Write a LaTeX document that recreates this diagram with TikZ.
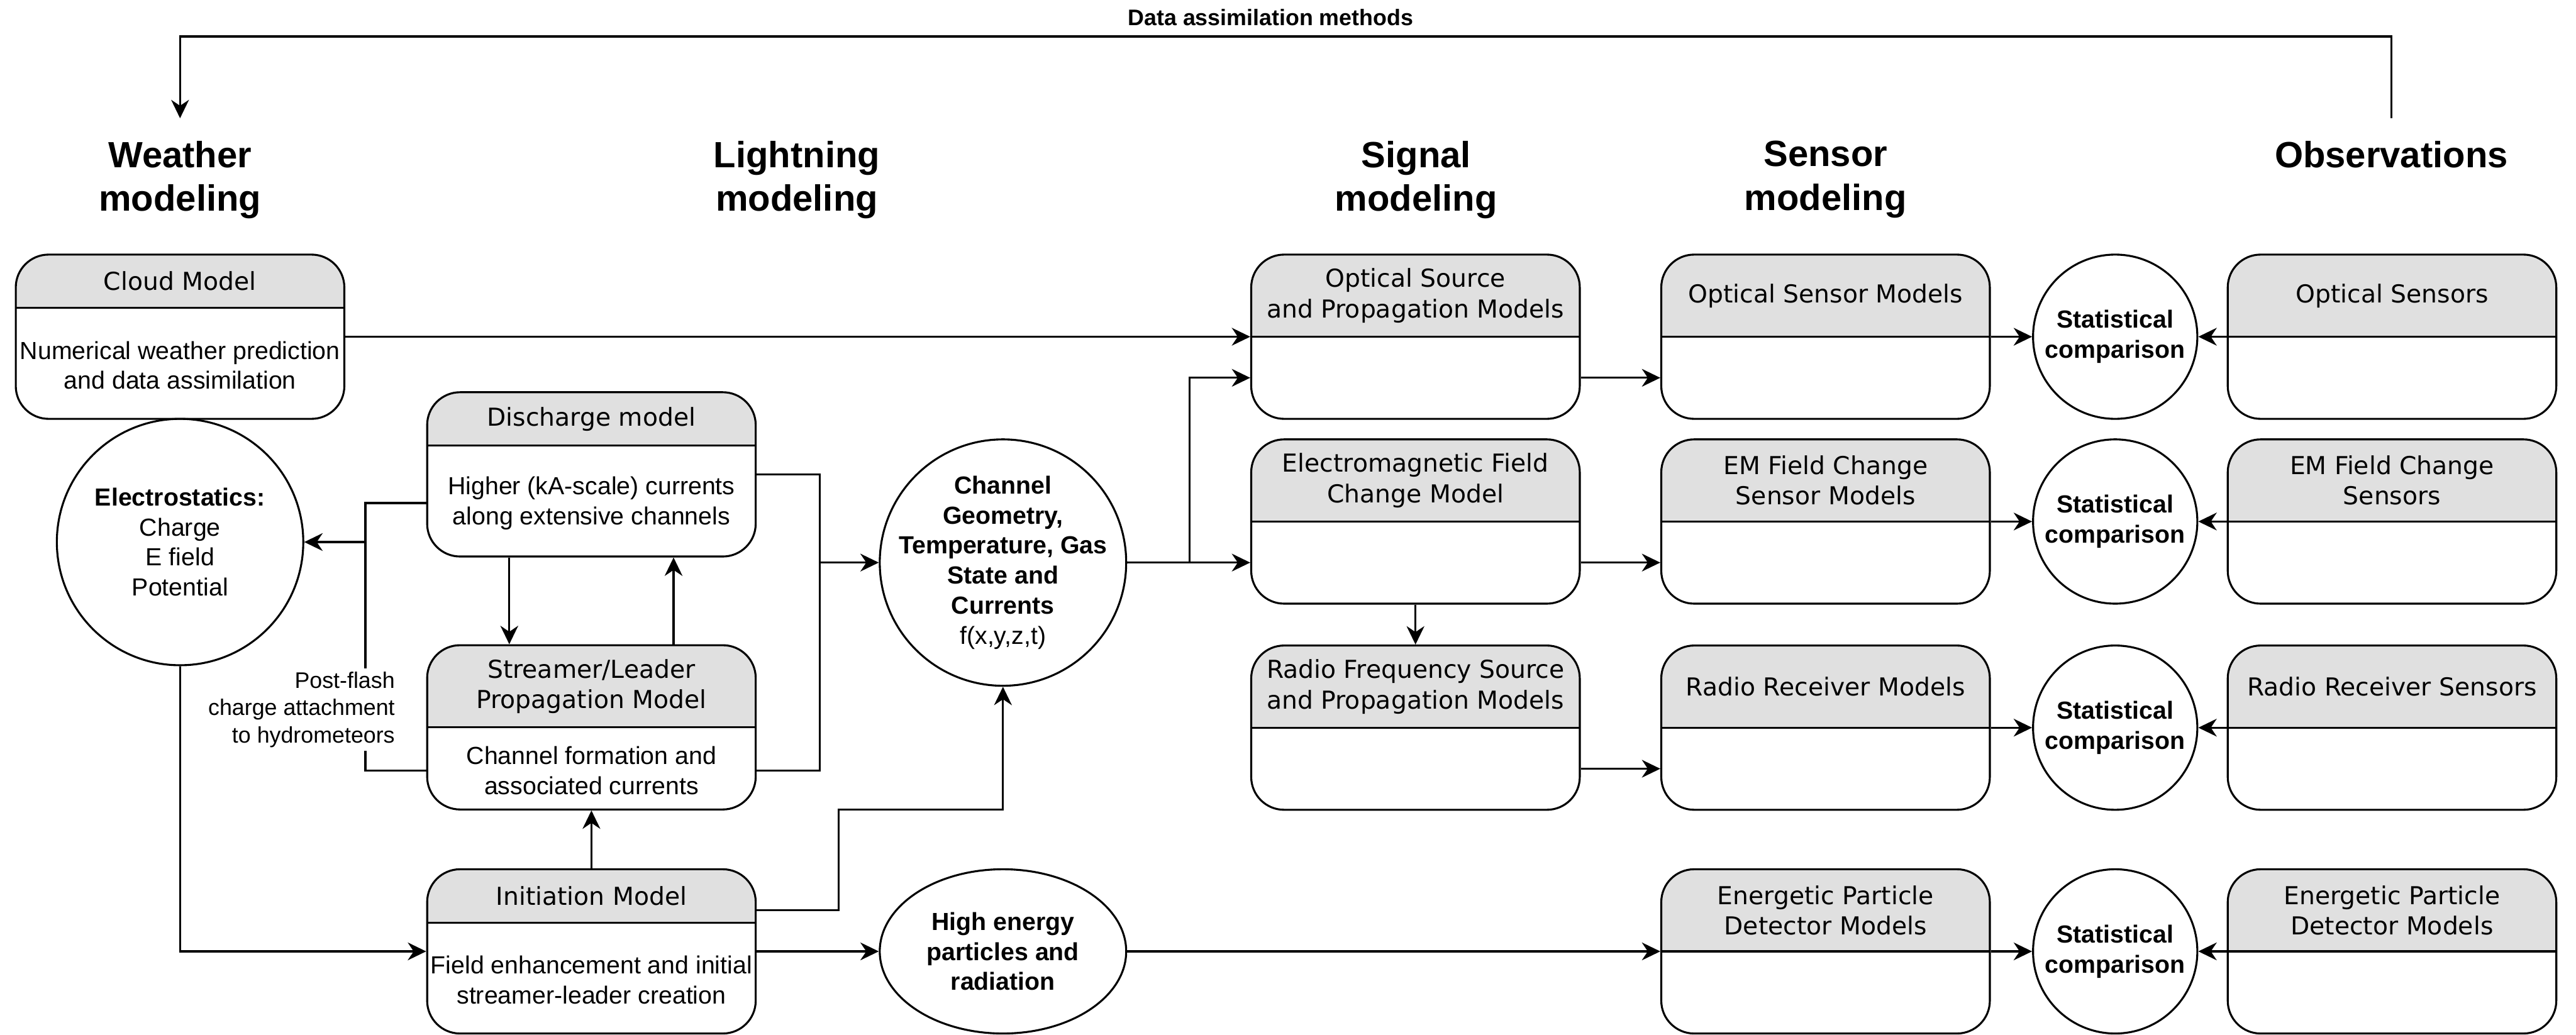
\documentclass[tikz,border=0pt]{standalone}
\usepackage{fontspec}
\setmainfont{Liberation Sans}
\newfontfamily\dejavu{DejaVu Sans}
\usetikzlibrary{arrows.meta, positioning, shapes.geometric}
\definecolor{headgray}{RGB}{224,224,224}

\begin{document}
\begin{tikzpicture}[line width=0.85pt, font=\fontsize{10.7}{13}\selectfont,
    arr/.style={-{Stealth[length=2.8mm, width=2.7mm, inset=0.9mm]}},
    lane/.style={draw, rounded corners=5mm, minimum width=5cm, minimum height=2.5cm, inner sep=0pt,
        path picture={
            \fill[headgray, sharp corners] (path picture bounding box.north west) rectangle ([yshift=-#1]path picture bounding box.north east);
            \draw[sharp corners] ([yshift=-#1]path picture bounding box.north west) -- ([yshift=-#1]path picture bounding box.north east);
        }},
    cell/.style={minimum width=5cm, minimum height=#1, inner sep=0pt, align=center},
    ttl/.style={cell=#1, font=\dejavu\fontsize{10.7}{13.2}\selectfont},
    hdr/.style={font=\bfseries\fontsize{15.8}{18.9}\selectfont, align=center, anchor=north, inner ysep=3.3mm},
    bub/.style={draw, circle, minimum size=3.75cm, inner sep=0pt, align=center},
    stat/.style={draw, circle, minimum size=2.5cm, inner sep=0pt, align=center, font=\bfseries\fontsize{10.7}{13}\selectfont},
    small/.style={font=\fontsize{9.75}{11.8}\selectfont}
]
\useasboundingbox (0,0) rectangle (39.2,15.75);

% Column headings
\node[hdr] (wea) at (2.74,13.95) {Weather\\modeling};
\node[hdr] (lig) at (12.125,13.95) {Lightning\\modeling};
\node[hdr] (sig) at (21.55,13.95) {Signal\\modeling};
\node[hdr] (sen) at (27.78,13.95) {Sensor\\modeling};
\node[hdr] (obs) at (36.39,13.95) {Observations};

% Data assimilation loop
\coordinate (top) at (19.335,15.195);
\node[font=\bfseries\fontsize{9.75}{11.8}\selectfont, above=1pt of top] (dam) {Data assimilation methods};
\draw[arr] (obs.north) |- (top) -| (wea.north);

% Weather modeling
\node[lane=0.8125cm] (cloud) at (2.74,10.625) {};
\node[ttl=0.8125cm, below=0pt of cloud.north] (cloudT) {Cloud Model};
\node[cell=1.6875cm, below=0pt of cloudT] (cloudB) {Numerical weather prediction\\and data assimilation};
\node[bub] (elec) at (2.74,7.5) {\textbf{Electrostatics:}\\Charge\\E field\\Potential};

% Lightning modeling
\node[lane=0.8125cm] (dis) at (9,8.53) {};
\node[ttl=0.8125cm, below=0pt of dis.north] (disT) {Discharge model};
\node[cell=1.6875cm, below=0pt of disT] (disB) {Higher (kA-scale) currents\\along extensive channels};

\node[lane=1.25cm] (str) at (9,4.68) {};
\node[ttl=1.25cm, below=0pt of str.north] (strT) {Streamer/Leader\\Propagation Model};
\node[cell=1.25cm, below=0pt of strT] (strB) {Channel formation and\\associated currents};

\node[lane=0.8125cm] (ini) at (9,1.27) {};
\node[ttl=0.8125cm, below=0pt of ini.north] (iniT) {Initiation Model};
\node[cell=1.6875cm, below=0pt of iniT] (iniB) {Field enhancement and initial\\streamer-leader creation};

\node[bub] (chan) at (15.2625,7.1875) {};
\node[align=center, font=\bfseries\fontsize{10.7}{13}\selectfont] (chanT) at (chan) {Channel\\Geometry,\\Temperature, Gas\\State and\\Currents\\{\mdseries f(x,y,z,t)}};
\node[draw, ellipse, minimum width=3.75cm, minimum height=2.5cm, inner sep=0pt, align=center, font=\bfseries\fontsize{10.7}{13}\selectfont] (hep) at (15.2625,1.27) {High energy\\particles and\\radiation};

% Signal modeling
\node[lane=1.25cm] (opt) at (21.54,10.625) {};
\node[ttl=1.25cm, below=0pt of opt.north] (optT) {Optical Source\\and Propagation Models};
\node[lane=1.25cm] (em) at (21.54,7.8125) {};
\node[ttl=1.25cm, below=0pt of em.north] (emT) {Electromagnetic Field\\Change Model};
\node[lane=1.25cm] (rf) at (21.54,4.675) {};
\node[ttl=1.25cm, below=0pt of rf.north] (rfT) {Radio Frequency Source\\and Propagation Models};

% Sensor modeling
\node[lane=1.25cm] (osm) at (27.78,10.625) {};
\node[ttl=1.25cm, below=0pt of osm.north] (osmT) {Optical Sensor Models};
\node[lane=1.25cm] (esm) at (27.78,7.8125) {};
\node[ttl=1.25cm, below=0pt of esm.north] (esmT) {EM Field Change\\Sensor Models};
\node[lane=1.25cm] (rrm) at (27.78,4.675) {};
\node[ttl=1.25cm, below=0pt of rrm.north] (rrmT) {Radio Receiver Models};
\node[lane=1.25cm] (epm) at (27.78,1.27) {};
\node[ttl=1.25cm, below=0pt of epm.north] (epmT) {Energetic Particle\\Detector Models};

% Comparisons
\node[stat] (st1) at (32.1875,10.625) {Statistical\\comparison};
\node[stat] (st2) at (32.1875,7.8125) {Statistical\\comparison};
\node[stat] (st3) at (32.1875,4.675) {Statistical\\comparison};
\node[stat] (st4) at (32.1875,1.27) {Statistical\\comparison};

% Observations
\node[lane=1.25cm] (os) at (36.4,10.625) {};
\node[ttl=1.25cm, below=0pt of os.north] (osT) {Optical Sensors};
\node[lane=1.25cm] (es) at (36.4,7.8125) {};
\node[ttl=1.25cm, below=0pt of es.north] (esT) {EM Field Change\\Sensors};
\node[lane=1.25cm] (rr) at (36.4,4.675) {};
\node[ttl=1.25cm, below=0pt of rr.north] (rrT) {Radio Receiver Sensors};
\node[lane=1.25cm] (ep) at (36.4,1.27) {};
\node[ttl=1.25cm, below=0pt of ep.north] (epT) {Energetic Particle\\Detector Models};

% Lightning connectors
\draw[arr] (cloud.east) -- (opt.west);
\draw (disB.west) -- ++(-0.925,0) coordinate (pf) |- (strB.west);
\draw[arr] (pf |- elec.east) -- (elec.east);
\node[small, align=right, fill=white, inner sep=1.5pt, anchor=east] (pfl) at (6.075,4.95) {Post-flash\\charge attachment\\to hydrometeors};
\draw[arr] ([xshift=-1.25cm]dis.south) -- ([xshift=-1.25cm]str.north);
\draw[arr] ([xshift=1.25cm]str.north) -- ([xshift=1.25cm]dis.south);
\draw (dis.east) -- ++(0.96,0) coordinate (jn) |- (strB.east);
\draw[arr] (jn |- chan.west) -- (chan.west);
\draw[arr] (ini.north) -- (str.south);
\draw[arr] (elec.south) |- (ini.west);
\coordinate (bend) at (12.765,3.425);
\draw[arr] ([yshift=6.25mm]ini.east) -| (bend) -| (chan.south);
\draw[arr] (ini.east) -- (hep.west);
\draw[arr] (hep.east) -- (epm.west);

% Signal connectors
\draw[arr] (chan.east) -- ([yshift=-6.25mm]em.west);
\coordinate (sp) at ([xshift=9.5mm]chan.east);
\draw[arr] (sp) |- ([yshift=-6.25mm]opt.west);
\draw[arr] (em.south) -- (rf.north);
\draw[arr] ([yshift=-6.25mm]opt.east) -- ([yshift=-6.25mm]osm.west);
\draw[arr] ([yshift=-6.25mm]em.east) -- ([yshift=-6.25mm]esm.west);
\draw[arr] ([yshift=-6.25mm]rf.east) -- ([yshift=-6.25mm]rrm.west);

% Comparison connectors
\draw[arr] (osm.east) -- (st1.west);
\draw[arr] (esm.east) -- (st2.west);
\draw[arr] (rrm.east) -- (st3.west);
\draw[arr] (epm.east) -- (st4.west);
\draw[arr] (os.west) -- (st1.east);
\draw[arr] (es.west) -- (st2.east);
\draw[arr] (rr.west) -- (st3.east);
\draw[arr] (ep.west) -- (st4.east);
\end{tikzpicture}
\end{document}
